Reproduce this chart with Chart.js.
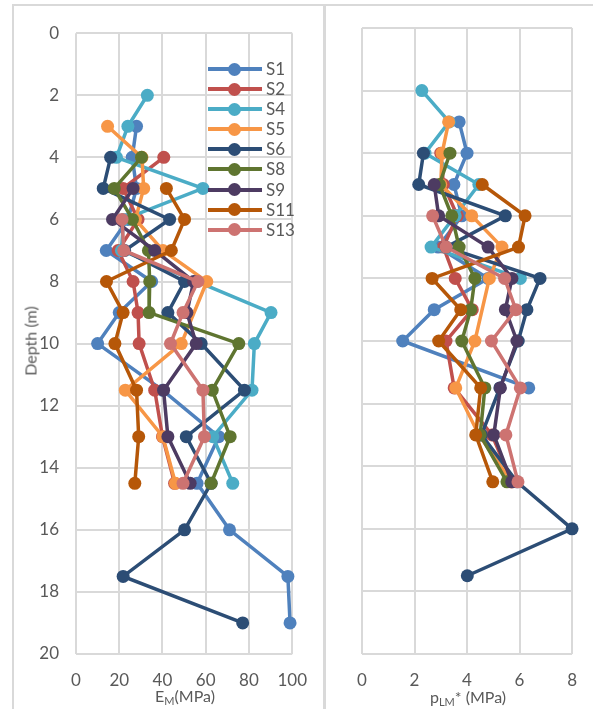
<!DOCTYPE html>
<html>
<head>
<meta charset="utf-8">
<script src="https://cdn.jsdelivr.net/npm/chart.js@4.4.1/dist/chart.umd.min.js"></script>
<style>
  body { margin: 0; background: #fff; font-family: Lato, sans-serif; }
  #wrap { position: relative; width: 593px; height: 709px; overflow: hidden; }
  .box { position: absolute; border: 2px solid #D9D9D9; box-sizing: border-box; }
  canvas { position: absolute; }
  .title { position: absolute; color: #595959; font-size: 16px; white-space: nowrap; }
  .title sub { font-size: 11px; vertical-align: -3px; }
  #legend { position: absolute; left: 206px; top: 59px; }
  .item { position: relative; height: 20.1px; width: 90px; }
  .item .ln { position: absolute; left: 2px; top: 8px; width: 54px; height: 4px; }
  .item .mk { position: absolute; left: 22px; top: 3.5px; width: 13px; height: 13px; border-radius: 50%; }
  .item .tx { position: absolute; left: 60px; top: -1px; font-size: 17px; color: #595959; }
</style>
</head>
<body>
<div id="wrap">
  <div class="box" style="left:12px; top:4px; width:314px; height:730px;"></div>
  <div class="box" style="left:323px; top:4px; width:300px; height:730px;"></div>
  <canvas id="left" width="309" height="703" style="left:14px; top:6px;"></canvas>
  <canvas id="right" width="267" height="703" style="left:326px; top:6px;"></canvas>
  <div class="title" style="left:30px; top:341px; transform: translate(-50%, -50%) rotate(-90deg);">Depth (m)</div>
  <div class="title" style="left:185px; top:696px; transform: translate(-50%, -50%);">E<sub>M</sub>(MPa)</div>
  <div class="title" style="left:468px; top:697px; transform: translate(-50%, -50%);">p<sub>LM</sub>* (MPa)</div>
  <div id="legend"></div>
</div>
<script>
// depth of every test level (m)
const depths = [2, 3, 4, 5, 6, 7, 8, 9, 10, 11.5, 13, 14.5, 16, 17.5, 19];

const names = ["S1", "S2", "S4", "S5", "S6", "S8", "S9", "S11", "S13"];
const colors = ["#4F81BD", "#C0504D", "#4BACC6", "#F79646", "#2C4D75", "#5F7530", "#4D3B62", "#B65708", "#CD7371"];

// EM (MPa), one value per depth
const emS1  = [null, 28, 26, 28, 24, 14, 35, 20, 10, 40, 66, 56, 71, 98, 99];
const emS2  = [null, null, 40.6, 21.8, 28.7, 19.5, 26.4, 28.7, 29.2, 36.4, 40, 45.6, null, null, null];
const emS4  = [33, 24, 18.7, 58.7, 22, 21, 56, 90.2, 82.5, 81.4, 63.3, 72.5, null, null, null];
const emS5  = [null, 14.6, 30.5, 31.3, 27.5, 40.2, 60.5, null, 48.7, 22.8, 40.2, 46, null, null, null];
const emS6  = [null, null, 16, 12.6, 43.3, 22.5, 50.2, 42.5, 57.9, 77.9, 51, 62.5, 50.2, 21.8, 77.1];
const emS8  = [null, null, 30.3, 17.7, 26.1, 33.5, 34.1, 33.8, 75.3, 63, 71.3, 62.5, null, null, null];
const emS9  = [null, null, null, 26.4, 16.9, 36.4, 54.4, 51.3, 55.6, 40.5, 42.5, 52.8, null, null, null];
const emS11 = [null, null, null, 41.8, 50.2, 44.1, 14.1, 21.8, 18, 28, 29, 27.2, null, null, null];
const emS13 = [null, null, null, null, 21.3, 22.1, 56.4, 49.5, 43.7, 58.7, 59.4, 49.5, null, null, null];

// pLM* (MPa), one value per depth
const plS1  = [null, 3.7, 4.0, 3.5, 3.8, 2.9, 4.8, 2.75, 1.55, 6.35, null, null, null, null, null];
const plS2  = [null, null, 3.0, 3.1, 3.63, 3.1, 3.55, 4.2, 3.2, 3.51, 4.95, 5.7, null, null, null];
const plS4  = [2.28, 3.32, 2.4, 4.45, 3.55, 2.63, 6.03, null, null, null, null, null, null, null, null];
const plS5  = [null, 3.3, 3.05, 3.0, 4.18, 5.33, 4.85, null, 4.3, 3.57, 4.45, 5.7, null, null, null];
const plS6  = [null, null, 2.34, 2.16, 5.46, 3.2, 6.78, 6.28, 5.95, 5.25, 4.55, 5.9, 8.0, 4.01, null];
const plS8  = [null, null, 3.35, 2.95, 3.42, 3.7, 4.3, 4.14, 3.8, 4.68, 4.5, 5.52, null, null, null];
const plS9  = [null, null, null, 2.75, 2.92, 4.8, 5.71, 5.46, 5.9, 5.27, 5.02, 5.7, null, null, null];
const plS11 = [null, null, null, 4.58, 6.21, 5.96, 2.67, 3.76, 2.92, 4.52, 4.33, 4.98, null, null, null];
const plS13 = [null, null, null, null, 2.69, 3.2, 5.43, 5.86, 4.93, 6.03, 5.48, 5.94, null, null, null];

const emSeries = [emS1, emS2, emS4, emS5, emS6, emS8, emS9, emS11, emS13];
const plSeries = [plS1, plS2, plS4, plS5, plS6, plS8, plS9, plS11, plS13];

const tickColor = "#595959";
const gridColor = "#D9D9D9";

function makeDatasets(series) {
  return series.map((vals, i) => ({
    label: names[i],
    data: depths.map((d, k) => ({ x: vals[k], y: d })).filter(p => p.x !== null),
    borderColor: colors[i],
    backgroundColor: colors[i],
    borderWidth: 3.5,
    pointRadius: 6.5,
    pointBorderWidth: 0,
    pointHoverRadius: 6.5,
    showLine: true,
    clip: false,
    order: series.length - i   // later series on top, like the original
  }));
}

function makeChart(id, series, xMax, xStep, yWidth, showYLabels, rightPad) {
  new Chart(document.getElementById(id), {
    type: "scatter",
    data: { datasets: makeDatasets(series) },
    options: {
      responsive: false,
      animation: false,
      devicePixelRatio: 1,
      layout: { padding: { top: 22, right: rightPad, left: 0, bottom: 0 } },
      plugins: { legend: { display: false }, tooltip: { enabled: false } },
      scales: {
        x: {
          type: "linear", min: 0, max: xMax,
          ticks: { stepSize: xStep, color: tickColor, font: { family: "Lato", size: 17 }, padding: 16 },
          grid: { color: gridColor, lineWidth: 2, drawTicks: false },
          border: { display: false },
          afterFit: s => { s.height = 55; }
        },
        y: {
          type: "linear", reverse: true, min: 0, max: 20,
          ticks: { stepSize: 2, display: showYLabels, color: tickColor, font: { family: "Lato", size: 17 }, padding: 17 },
          grid: { color: gridColor, lineWidth: 2, drawTicks: false },
          border: { display: false },
          afterFit: s => { s.width = yWidth; }
        }
      }
    }
  });
}

makeChart("left", emSeries, 100, 20, 62, true, 30);
makeChart("right", plSeries, 8, 2, 36, false, 19);

// legend inside the left plot
const legend = document.getElementById("legend");
names.forEach((n, i) => {
  const it = document.createElement("div");
  it.className = "item";
  it.innerHTML = '<div class="ln" style="background:' + colors[i] + '"></div>' +
                 '<div class="mk" style="background:' + colors[i] + '"></div>' +
                 '<div class="tx">' + n + '</div>';
  legend.appendChild(it);
});
</script>
</body>
</html>
